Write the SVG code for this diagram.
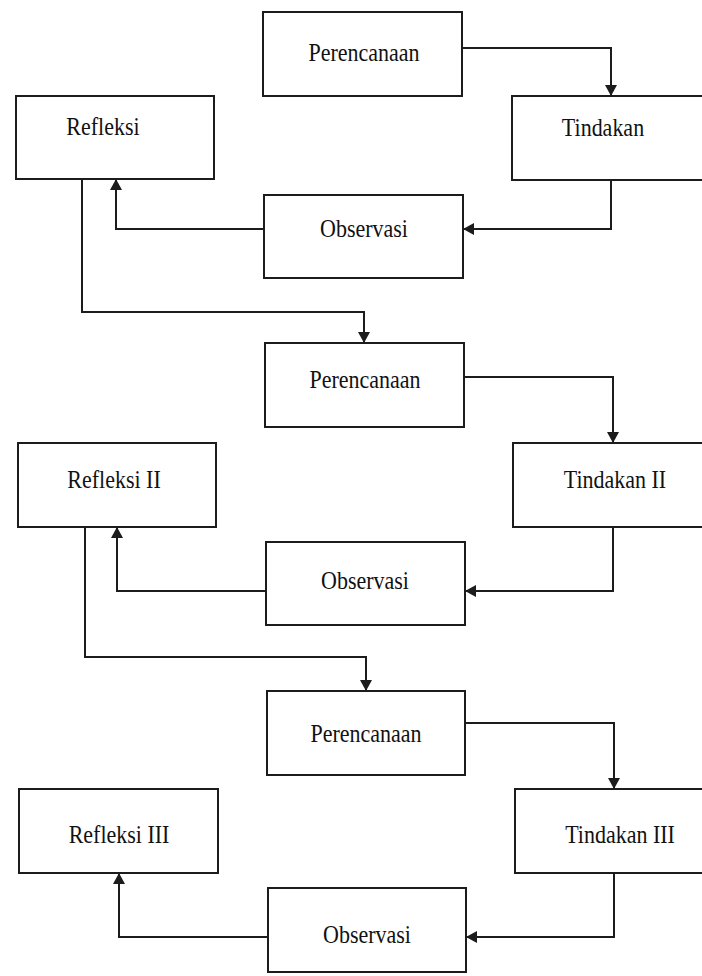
<svg xmlns="http://www.w3.org/2000/svg" width="702" height="976" viewBox="0 0 702 976">
<defs>
<style>
.box{fill:#fff;stroke:#1c1c1c;stroke-width:2}
.lbl{font-family:"Liberation Serif","Times New Roman",serif;font-size:22px;fill:#111;text-anchor:middle}
.con{fill:none;stroke:#1c1c1c;stroke-width:2}
</style>
<marker id="ah" markerUnits="userSpaceOnUse" markerWidth="12" markerHeight="12" refX="11" refY="6" orient="auto">
<path d="M0,0 L11,6 L0,12 z" fill="#1c1c1c"/>
</marker>
</defs>
<rect width="702" height="976" fill="#fff"/>
<g id="connectors">
<polyline class="con" points="462,48 611,48 611,96" marker-end="url(#ah)"/>
<polyline class="con" points="611,180 611,229 463,229" marker-end="url(#ah)"/>
<polyline class="con" points="264,229 116,229 116,179" marker-end="url(#ah)"/>
<polyline class="con" points="82,179 82,312 364,312 364,343" marker-end="url(#ah)"/>
<polyline class="con" points="464,377 613,377 613,443" marker-end="url(#ah)"/>
<polyline class="con" points="613,527 613,591 465,591" marker-end="url(#ah)"/>
<polyline class="con" points="266,591 117,591 117,527" marker-end="url(#ah)"/>
<polyline class="con" points="85,527 85,657 366,657 366,691" marker-end="url(#ah)"/>
<polyline class="con" points="465,723 614,723 614,789" marker-end="url(#ah)"/>
<polyline class="con" points="614,873 614,937 466,937" marker-end="url(#ah)"/>
<polyline class="con" points="268,937 119,937 119,873" marker-end="url(#ah)"/>
</g>
<g id="perencanaan1"><rect class="box" x="263" y="12" width="199" height="84"/><text class="lbl" transform="translate(364,61) scale(1,1.1)">Perencanaan</text></g>
<g id="refleksi1"><rect class="box" x="16" y="96" width="198" height="83"/><text class="lbl" transform="translate(103,135) scale(1,1.1)">Refleksi</text></g>
<g id="tindakan1"><rect class="box" x="512" y="96" width="200" height="84"/><text class="lbl" transform="translate(603,136) scale(1,1.1)">Tindakan</text></g>
<g id="observasi1"><rect class="box" x="264" y="195" width="199" height="83"/><text class="lbl" transform="translate(364,237) scale(1,1.1)">Observasi</text></g>
<g id="perencanaan2"><rect class="box" x="265" y="343" width="199" height="84"/><text class="lbl" transform="translate(365,388) scale(1,1.1)">Perencanaan</text></g>
<g id="refleksi2"><rect class="box" x="18" y="443" width="198" height="84"/><text class="lbl" transform="translate(114,488) scale(1,1.1)">Refleksi II</text></g>
<g id="tindakan2"><rect class="box" x="513" y="443" width="200" height="84"/><text class="lbl" transform="translate(615,488) scale(1,1.1)">Tindakan II</text></g>
<g id="observasi2"><rect class="box" x="266" y="542" width="199" height="83"/><text class="lbl" transform="translate(365,589) scale(1,1.1)">Observasi</text></g>
<g id="perencanaan3"><rect class="box" x="267" y="691" width="198" height="84"/><text class="lbl" transform="translate(366,742) scale(1,1.1)">Perencanaan</text></g>
<g id="refleksi3"><rect class="box" x="19" y="789" width="199" height="84"/><text class="lbl" transform="translate(119,843) scale(1,1.1)">Refleksi III</text></g>
<g id="tindakan3"><rect class="box" x="515" y="789" width="200" height="84"/><text class="lbl" transform="translate(620,843) scale(1,1.1)">Tindakan III</text></g>
<g id="observasi3"><rect class="box" x="268" y="888" width="198" height="84"/><text class="lbl" transform="translate(367,943) scale(1,1.1)">Observasi</text></g>
</svg>
